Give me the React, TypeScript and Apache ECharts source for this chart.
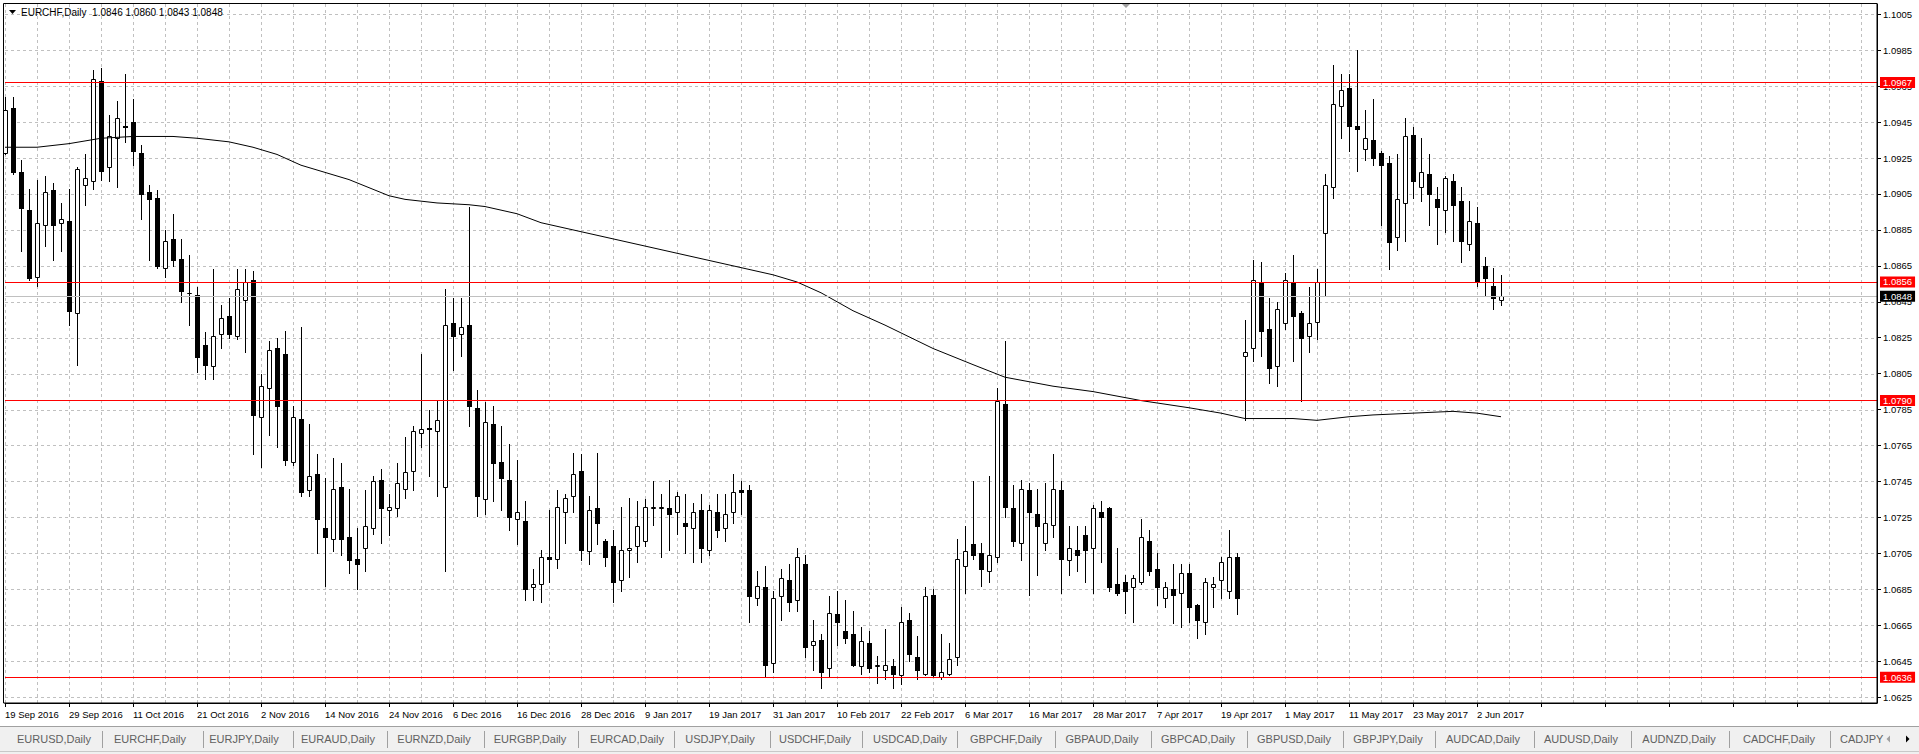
import React, { useEffect, useRef } from "react";
import * as echarts from "echarts";

const CHART_TITLE = "EURCHF,Daily";
const TITLE_OHLC = "1.0846 1.0860 1.0843 1.0848";

// Daily candles, 19 Sep 2016 .. 7 Jun 2017 (one per weekday)
const OPEN = [
  1.0928, 1.0953, 1.0917, 1.0896, 1.0859, 1.0888, 1.0907, 1.0889, 1.0890, 1.0839,
  1.0910, 1.0912, 1.0968, 1.0920, 1.0936, 1.0943, 1.0945, 1.0928, 1.0906, 1.0903,
  1.0864, 1.0880, 1.0869, 1.0850, 1.0849, 1.0821, 1.0809, 1.0827, 1.0837, 1.0826,
  1.0846, 1.0857, 1.0781, 1.0797, 1.0819, 1.0816, 1.0756, 1.0780, 1.0740, 1.0749,
  1.0719, 1.0713, 1.0742, 1.0714, 1.0702, 1.0708, 1.0719, 1.0746, 1.0729, 1.0730,
  1.0741, 1.0751, 1.0772, 1.0775, 1.0773, 1.0742, 1.0833, 1.0827, 1.0832, 1.0786,
  1.0735, 1.0777, 1.0756, 1.0746, 1.0724, 1.0723, 1.0686, 1.0688, 1.0703, 1.0702,
  1.0728, 1.0737, 1.0751, 1.0706, 1.0730, 1.0712, 1.0709, 1.0690, 1.0707, 1.0709,
  1.0712, 1.0730, 1.0730, 1.0730, 1.0728, 1.0722, 1.0719, 1.0729, 1.0707, 1.0728,
  1.0719, 1.0728, 1.0740, 1.0740, 1.0680, 1.0686, 1.0644, 1.0681, 1.0690, 1.0679,
  1.0699, 1.0654, 1.0657, 1.0641, 1.0671, 1.0662, 1.0660, 1.0642, 1.0655, 1.0642,
  1.0640, 1.0642, 1.0637, 1.0668, 1.0647, 1.0638, 1.0682, 1.0636, 1.0638, 1.0647,
  1.0698, 1.0710, 1.0705, 1.0695, 1.0703, 1.0788, 1.0730, 1.0711, 1.0740, 1.0727,
  1.0711, 1.0721, 1.0740, 1.0701, 1.0707, 1.0715, 1.0708, 1.0728, 1.0730, 1.0688,
  1.0689, 1.0686, 1.0689, 1.0712, 1.0696, 1.0680, 1.0685, 1.0683, 1.0694, 1.0676,
  1.0667, 1.0686, 1.0690, 1.0684, 1.0703, 1.0815, 1.0819, 1.0856, 1.0830, 1.0809,
  1.0833, 1.0856, 1.0839, 1.0826, 1.0834, 1.0883, 1.0909, 1.0954, 1.0964, 1.0943,
  1.0930, 1.0935, 1.0928, 1.0922, 1.0881, 1.0900, 1.0938, 1.0909, 1.0916, 1.0902,
  1.0896, 1.0912, 1.0901, 1.0877, 1.0889, 1.0865, 1.0854, 1.0846,
];
const HIGH = [
  1.0959, 1.0959, 1.0924, 1.0908, 1.0913, 1.0915, 1.0911, 1.0900, 1.0908, 1.0920,
  1.0927, 1.0974, 1.0975, 1.0949, 1.0957, 1.0972, 1.0958, 1.0932, 1.0910, 1.0907,
  1.0885, 1.0894, 1.0880, 1.0871, 1.0853, 1.0828, 1.0863, 1.0843, 1.0847, 1.0863,
  1.0863, 1.0862, 1.0805, 1.0823, 1.0825, 1.0829, 1.0787, 1.0831, 1.0777, 1.0760,
  1.0747, 1.0758, 1.0755, 1.0741, 1.0719, 1.0740, 1.0748, 1.0752, 1.0738, 1.0755,
  1.0770, 1.0776, 1.0816, 1.0785, 1.0790, 1.0852, 1.0847, 1.0847, 1.0898, 1.0796,
  1.0789, 1.0787, 1.0776, 1.0766, 1.0757, 1.0734, 1.0696, 1.0707, 1.0729, 1.0740,
  1.0738, 1.0761, 1.0760, 1.0737, 1.0761, 1.0713, 1.0718, 1.0731, 1.0736, 1.0734,
  1.0735, 1.0745, 1.0738, 1.0746, 1.0739, 1.0738, 1.0733, 1.0738, 1.0732, 1.0738,
  1.0738, 1.0749, 1.0745, 1.0743, 1.0695, 1.0698, 1.0684, 1.0696, 1.0699, 1.0708,
  1.0704, 1.0668, 1.0660, 1.0681, 1.0684, 1.0679, 1.0673, 1.0664, 1.0662, 1.0648,
  1.0663, 1.0646, 1.0675, 1.0672, 1.0659, 1.0686, 1.0685, 1.0660, 1.0655, 1.0713,
  1.0720, 1.0745, 1.0711, 1.0748, 1.0797, 1.0823, 1.0743, 1.0746, 1.0744, 1.0741,
  1.0744, 1.0760, 1.0745, 1.0720, 1.0720, 1.0720, 1.0732, 1.0734, 1.0731, 1.0708,
  1.0693, 1.0693, 1.0724, 1.0718, 1.0705, 1.0689, 1.0699, 1.0699, 1.0699, 1.0677,
  1.0691, 1.0692, 1.0703, 1.0718, 1.0705, 1.0835, 1.0868, 1.0867, 1.0847, 1.0845,
  1.0861, 1.0871, 1.0840, 1.0853, 1.0863, 1.0916, 1.0977, 1.0972, 1.0972, 1.0985,
  1.0952, 1.0958, 1.0929, 1.0926, 1.0927, 1.0947, 1.0942, 1.0936, 1.0927, 1.0909,
  1.0915, 1.0916, 1.0909, 1.0901, 1.0898, 1.0870, 1.0864, 1.0860,
];
const LOW = [
  1.0927, 1.0916, 1.0873, 1.0857, 1.0854, 1.0876, 1.0868, 1.0873, 1.0832, 1.0810,
  1.0899, 1.0908, 1.0913, 1.0912, 1.0909, 1.0934, 1.0921, 1.0891, 1.0868, 1.0864,
  1.0859, 1.0865, 1.0845, 1.0832, 1.0806, 1.0802, 1.0802, 1.0819, 1.0825, 1.0824,
  1.0817, 1.0760, 1.0753, 1.0771, 1.0764, 1.0754, 1.0754, 1.0737, 1.0737, 1.0705,
  1.0687, 1.0706, 1.0704, 1.0694, 1.0685, 1.0695, 1.0716, 1.0711, 1.0715, 1.0726,
  1.0736, 1.0740, 1.0764, 1.0748, 1.0737, 1.0695, 1.0807, 1.0815, 1.0776, 1.0726,
  1.0727, 1.0734, 1.0729, 1.0718, 1.0710, 1.0679, 1.0679, 1.0678, 1.0689, 1.0697,
  1.0711, 1.0728, 1.0701, 1.0699, 1.0710, 1.0698, 1.0678, 1.0684, 1.0692, 1.0700,
  1.0709, 1.0721, 1.0703, 1.0707, 1.0716, 1.0705, 1.0700, 1.0700, 1.0704, 1.0714,
  1.0712, 1.0722, 1.0727, 1.0667, 1.0676, 1.0636, 1.0639, 1.0668, 1.0673, 1.0673,
  1.0647, 1.0640, 1.0630, 1.0636, 1.0654, 1.0655, 1.0642, 1.0638, 1.0639, 1.0633,
  1.0635, 1.0630, 1.0632, 1.0645, 1.0635, 1.0637, 1.0636, 1.0635, 1.0637, 1.0643,
  1.0683, 1.0702, 1.0687, 1.0689, 1.0700, 1.0725, 1.0709, 1.0701, 1.0682, 1.0693,
  1.0707, 1.0714, 1.0683, 1.0693, 1.0695, 1.0689, 1.0683, 1.0700, 1.0684, 1.0682,
  1.0672, 1.0667, 1.0688, 1.0693, 1.0676, 1.0675, 1.0666, 1.0664, 1.0667, 1.0658,
  1.0660, 1.0675, 1.0680, 1.0680, 1.0671, 1.0779, 1.0812, 1.0815, 1.0800, 1.0798,
  1.0830, 1.0812, 1.0790, 1.0817, 1.0824, 1.0848, 1.0903, 1.0936, 1.0929, 1.0918,
  1.0924, 1.0921, 1.0888, 1.0863, 1.0874, 1.0879, 1.0903, 1.0901, 1.0888, 1.0877,
  1.0884, 1.0879, 1.0867, 1.0874, 1.0854, 1.0848, 1.0841, 1.0843,
];
const CLOSE = [
  1.0952, 1.0917, 1.0897, 1.0858, 1.0889, 1.0906, 1.0888, 1.0891, 1.0840, 1.0919,
  1.0914, 1.0969, 1.0918, 1.0937, 1.0947, 1.0942, 1.0929, 1.0905, 1.0902, 1.0865,
  1.0879, 1.0868, 1.0851, 1.0850, 1.0814, 1.0810, 1.0826, 1.0836, 1.0827, 1.0852,
  1.0856, 1.0782, 1.0798, 1.0818, 1.0787, 1.0757, 1.0781, 1.0739, 1.0748, 1.0724,
  1.0714, 1.0741, 1.0713, 1.0701, 1.0699, 1.0720, 1.0745, 1.0730, 1.0731, 1.0744,
  1.0750, 1.0773, 1.0774, 1.0774, 1.0779, 1.0832, 1.0826, 1.0831, 1.0787, 1.0737,
  1.0778, 1.0755, 1.0747, 1.0725, 1.0728, 1.0685, 1.0688, 1.0703, 1.0702, 1.0731,
  1.0736, 1.0749, 1.0707, 1.0729, 1.0722, 1.0703, 1.0689, 1.0707, 1.0708, 1.0720,
  1.0731, 1.0731, 1.0731, 1.0727, 1.0737, 1.0720, 1.0728, 1.0708, 1.0729, 1.0718,
  1.0727, 1.0739, 1.0739, 1.0681, 1.0687, 1.0643, 1.0680, 1.0691, 1.0678, 1.0703,
  1.0653, 1.0656, 1.0639, 1.0672, 1.0667, 1.0658, 1.0643, 1.0656, 1.0641, 1.0643,
  1.0643, 1.0638, 1.0667, 1.0649, 1.0640, 1.0681, 1.0637, 1.0639, 1.0646, 1.0702,
  1.0706, 1.0704, 1.0696, 1.0704, 1.0790, 1.0731, 1.0712, 1.0741, 1.0728, 1.0720,
  1.0722, 1.0741, 1.0702, 1.0708, 1.0704, 1.0707, 1.0730, 1.0725, 1.0686, 1.0683,
  1.0684, 1.0691, 1.0714, 1.0695, 1.0686, 1.0686, 1.0682, 1.0694, 1.0675, 1.0668,
  1.0689, 1.0688, 1.0700, 1.0703, 1.0680, 1.0817, 1.0857, 1.0829, 1.0808, 1.0841,
  1.0857, 1.0837, 1.0825, 1.0833, 1.0856, 1.0910, 1.0955, 1.0963, 1.0943, 1.0941,
  1.0936, 1.0925, 1.0921, 1.0878, 1.0902, 1.0937, 1.0912, 1.0917, 1.0905, 1.0898,
  1.0914, 1.0899, 1.0879, 1.0890, 1.0856, 1.0858, 1.0847, 1.0848,
];

// Moving average line, sampled at bar indices
const MA_BARS = [0, 4, 8, 12, 16, 21, 24, 28, 31, 34, 37, 43, 48, 50, 54, 58, 60, 64, 67, 70, 74,
  80, 86, 92, 96, 99, 102, 106, 110, 116, 121, 125, 131, 136, 142, 148, 152, 155, 161, 164, 168, 171, 176, 181, 184, 187];
const MA_VALUES = [1.0931, 1.0931, 1.0933, 1.0936, 1.0937, 1.0937, 1.0936, 1.0934, 1.0931, 1.0927, 1.0921, 1.0913, 1.0904, 1.0902, 1.0900, 1.0899, 1.0898, 1.0894, 1.0889, 1.0886, 1.0882,
  1.0876, 1.0870, 1.0864, 1.0860, 1.0856, 1.0850, 1.0840, 1.0832, 1.0819, 1.0810, 1.0803, 1.0798, 1.0795, 1.0790, 1.0786, 1.0783, 1.0780, 1.0780, 1.0779, 1.0781, 1.0782, 1.0783, 1.0784, 1.0783, 1.0781];

// Horizontal levels
const RED_LEVELS = [1.0967, 1.0856, 1.0790, 1.0636];
const BID_LEVEL = 1.0848;

// Price-axis tick labels
const Y_TICKS = [1.0625, 1.0645, 1.0665, 1.0685, 1.0705, 1.0725, 1.0745, 1.0765, 1.0785, 1.0805,
  1.0825, 1.0845, 1.0865, 1.0885, 1.0905, 1.0925, 1.0945, 1.0965, 1.0985, 1.1005];

const TAB_LABELS = ["EURUSD,Daily", "EURCHF,Daily", "EURJPY,Daily", "EURAUD,Daily", "EURNZD,Daily",
  "EURGBP,Daily", "EURCAD,Daily", "USDJPY,Daily", "USDCHF,Daily", "USDCAD,Daily", "GBPCHF,Daily",
  "GBPAUD,Daily", "GBPCAD,Daily", "GBPUSD,Daily", "GBPJPY,Daily", "AUDCAD,Daily", "AUDUSD,Daily",
  "AUDNZD,Daily", "CADCHF,Daily"];
const TAB_LAST = "CADJPY";

// layout constants
const W = 1919;
const H = 754;
const SLOTS = 235;
const GRID_LEFT = 5;
const GRID_TOP = 4;
const GRID_W = (SLOTS - 1) * 8;
const GRID_H = 699;
const Y_MIN = 1.062167;
const Y_MAX = 1.101073;
const TAB_CENTERS = [54, 150, 244, 338, 434, 530, 627, 720, 815, 910, 1006, 1102, 1198, 1294, 1388, 1483, 1581, 1679, 1779];
const TAB_SEPS = [102, 203, 293, 387, 484, 578, 674, 770, 862, 957, 1055, 1151, 1247, 1343, 1435, 1534, 1631, 1729, 1830];
const FONT = "Tahoma, 'Liberation Sans', Arial, sans-serif";

const MONTHS = ["Jan", "Feb", "Mar", "Apr", "May", "Jun", "Jul", "Aug", "Sep", "Oct", "Nov", "Dec"];

function buildCategories(): string[] {
  const out: string[] = [];
  const d = new Date(Date.UTC(2016, 8, 19));
  while (out.length < OPEN.length) {
    const wd = d.getUTCDay();
    if (wd !== 0 && wd !== 6) {
      out.push(`${d.getUTCDate()} ${MONTHS[d.getUTCMonth()]} ${d.getUTCFullYear()}`);
    }
    d.setUTCDate(d.getUTCDate() + 1);
  }
  while (out.length < SLOTS) out.push("");
  return out;
}

export default function App() {
  const ref = useRef<HTMLDivElement>(null);

  useEffect(() => {
    document.body.style.margin = "0";
    if (!ref.current) return;
    const chart = echarts.init(ref.current, undefined, { renderer: "svg" });

    const categories = buildCategories();
    const candles = OPEN.map((o, i) => [i, o, CLOSE[i], LOW[i], HIGH[i]]);
    const maData = MA_BARS.map((b, k) => [b, MA_VALUES[k]]);
    const gridRows = Y_TICKS.map((v) => [0, v]);

    const levelLines: any[] = RED_LEVELS.map((v) => ({
      yAxis: v,
      lineStyle: { color: "#ff0000", width: 1, type: "solid" },
      label: {
        show: true,
        position: "end",
        distance: 3,
        formatter: () => v.toFixed(4),
        backgroundColor: "#ff0000",
        color: "#ffffff",
        padding: [1, 3, 0, 3],
        fontSize: 9.5,
        fontFamily: FONT,
      },
    }));
    levelLines.push({
      yAxis: BID_LEVEL,
      lineStyle: { color: "#c0c0c0", width: 1, type: "solid" },
      label: {
        show: true,
        position: "end",
        distance: 3,
        formatter: () => BID_LEVEL.toFixed(4),
        backgroundColor: "#000000",
        color: "#ffffff",
        padding: [1, 3, 0, 3],
        fontSize: 9.5,
        fontFamily: FONT,
      },
    });

    const graphics: any[] = [
      // tab strip
      { type: "rect", shape: { x: 0, y: 726, width: W, height: 28 }, style: { fill: "#f0f0f0" }, silent: true },
      { type: "line", shape: { x1: 0, y1: 726.5, x2: W, y2: 726.5 }, style: { stroke: "#a0a0a0", lineWidth: 1 }, silent: true },
      { type: "line", shape: { x1: 0, y1: 751.5, x2: W, y2: 751.5 }, style: { stroke: "#c8c8c8", lineWidth: 1 }, silent: true },
      // chart frame
      { type: "rect", shape: { x: 3.5, y: 3.5, width: GRID_LEFT + GRID_W - 3.5, height: GRID_TOP + GRID_H - 3.5 }, style: { fill: "none", stroke: "#000", lineWidth: 1 }, silent: true, z: 50 },
      // title
      { type: "polygon", shape: { points: [[9, 10], [16, 10], [12.5, 14]] }, style: { fill: "#000" }, silent: true, z: 60 },
      { type: "text", x: 21, y: 12.5, style: { text: `${CHART_TITLE}  ${TITLE_OHLC}`, fill: "#000", font: `10px ${FONT}`, verticalAlign: "middle", align: "left" }, silent: true, z: 60 },
      // shift marker
      { type: "polygon", shape: { points: [[1122, 4], [1130, 4], [1126, 8]] }, style: { fill: "#a0a0a0" }, silent: true, z: 60 },
      // tab arrows
      { type: "polygon", shape: { points: [[1890, 735.5], [1890, 742.5], [1886.5, 739]] }, style: { fill: "#a0a0a0" }, silent: true },
      { type: "polygon", shape: { points: [[1906, 735.5], [1906, 742.5], [1909.5, 739]] }, style: { fill: "#000" }, silent: true },
      { type: "text", x: 1840, y: 739, style: { text: TAB_LAST, fill: "#606060", font: `11px ${FONT}`, verticalAlign: "middle", align: "left" }, silent: true },
    ];
    TAB_LABELS.forEach((t, k) => {
      graphics.push({ type: "text", x: TAB_CENTERS[k], y: 739, style: { text: t, fill: "#606060", font: `11px ${FONT}`, verticalAlign: "middle", align: "center" }, silent: true });
    });
    TAB_SEPS.forEach((sx) => {
      graphics.push({ type: "line", shape: { x1: sx + 0.5, y1: 731, x2: sx + 0.5, y2: 748 }, style: { stroke: "#a0a0a0", lineWidth: 1 }, silent: true });
    });

    chart.setOption({
      animation: false,
      backgroundColor: "#ffffff",
      grid: { left: GRID_LEFT, top: GRID_TOP, width: GRID_W, height: GRID_H, containLabel: false },
      xAxis: {
        type: "category",
        data: categories,
        boundaryGap: false,
        axisLine: { show: true, lineStyle: { color: "#000", width: 1 } },
        axisTick: { show: true, interval: 7, length: 4, lineStyle: { color: "#000" } },
        axisLabel: {
          interval: 7,
          align: "left",
          margin: 6,
          color: "#000",
          fontSize: 9.5,
          fontFamily: FONT,
          showMinLabel: true,
          showMaxLabel: false,
          hideOverlap: false,
        },
        splitLine: { show: true, interval: 3, lineStyle: { color: "#c0c0c0", type: [3, 3], width: 1 } },
      },
      yAxis: {
        type: "value",
        position: "right",
        min: Y_MIN,
        max: Y_MAX,
        axisLine: { show: true, lineStyle: { color: "#000", width: 1 } },
        axisTick: { show: true, length: 4, lineStyle: { color: "#000" }, customValues: Y_TICKS },
        axisLabel: {
          customValues: Y_TICKS,
          formatter: (v: number) => v.toFixed(4),
          color: "#000",
          fontSize: 9.5,
          fontFamily: FONT,
          margin: 6,
        },
        splitLine: { show: false },
      },
      series: [
        {
          type: "custom",
          name: "hgrid",
          z: 1,
          silent: true,
          data: gridRows,
          encode: { x: 0, y: 1 },
          renderItem: (params: any, api: any) => {
            const cs = params.coordSys;
            const y = Math.round(api.coord([0, api.value(1)])[1]) + 0.5;
            return {
              type: "line",
              shape: { x1: cs.x, y1: y, x2: cs.x + cs.width, y2: y },
              style: { stroke: "#c0c0c0", lineWidth: 1, lineDash: [3, 3] },
            };
          },
        },
        {
          type: "custom",
          name: "EURCHF",
          z: 3,
          silent: true,
          data: candles,
          encode: { x: 0, y: [1, 2, 3, 4] },
          renderItem: (params: any, api: any) => {
            const i = api.value(0);
            const o = api.value(1);
            const c = api.value(2);
            const l = api.value(3);
            const h = api.value(4);
            const pO = api.coord([i, o]);
            const pC = api.coord([i, c]);
            const pL = api.coord([i, l]);
            const pH = api.coord([i, h]);
            const x = Math.round(pO[0]);
            const yTop = Math.round(Math.min(pO[1], pC[1]));
            const yBot = Math.round(Math.max(pO[1], pC[1]));
            const children: any[] = [
              {
                type: "line",
                shape: { x1: x + 0.5, y1: Math.round(pH[1]), x2: x + 0.5, y2: Math.round(pL[1]) + 1 },
                style: { stroke: "#000", lineWidth: 1 },
              },
            ];
            if (c >= o) {
              children.push({
                type: "rect",
                shape: { x: x - 1.5, y: yTop + 0.5, width: 4, height: Math.max(yBot - yTop, 0) },
                style: { fill: "#fff", stroke: "#000", lineWidth: 1 },
              });
            } else {
              children.push({
                type: "rect",
                shape: { x: x - 2, y: yTop, width: 5, height: Math.max(yBot - yTop, 1) + 1 },
                style: { fill: "#000" },
              });
            }
            return { type: "group", children };
          },
        },
        {
          type: "line",
          name: "MA",
          z: 4,
          silent: true,
          data: maData,
          showSymbol: false,
          symbol: "none",
          connectNulls: true,
          lineStyle: { color: "#000", width: 1 },
          markLine: {
            silent: true,
            symbol: ["none", "none"],
            animation: false,
            precision: 4,
            data: levelLines,
          },
        },
      ],
      graphic: graphics,
    });

    return () => chart.dispose();
  }, []);

  return <div ref={ref} style={{ width: W, height: H }} />;
}
